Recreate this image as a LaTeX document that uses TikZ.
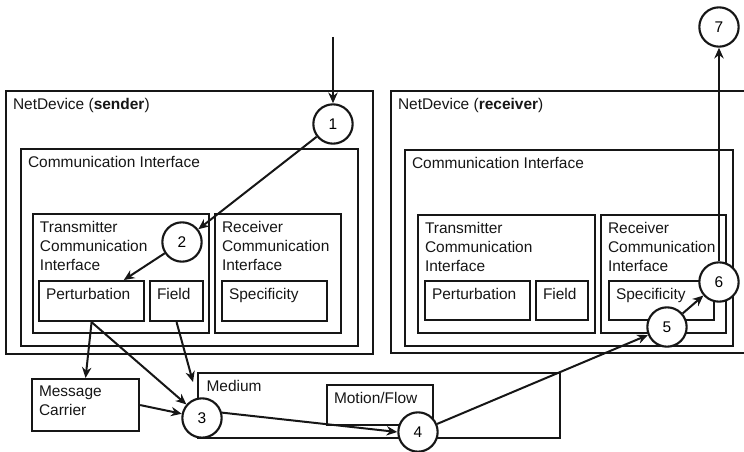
\documentclass[tikz,border=0pt]{standalone}
\usepackage{fontspec}
\setmainfont{Liberation Sans}
\usetikzlibrary{arrows.meta, positioning, calc}
\definecolor{inkblack}{HTML}{161616}
\tikzset{
  boxframe/.style 2 args={rectangle, draw=inkblack, line width=1.6pt, anchor=north west,
                          inner sep=0, minimum width=#1*0.75pt, minimum height=#2*0.75pt},
  boxlabel/.style={anchor=north west, inner sep=0, align=left, text=inkblack,
                   font=\fontsize{11.6}{14.4}\selectfont},
  stepnum/.style={circle, draw=inkblack, fill=white, line width=1.6pt,
                  minimum size=29.5pt, inner sep=0, font=\fontsize{11.6}{13}\selectfont},
  flow/.style={-{Stealth[length=8pt,width=7pt]}, line width=1.5pt, draw=inkblack},
}

\begin{document}
\begin{tikzpicture}[x=0.75pt, y=-0.75pt]
  \useasboundingbox (0,0) rectangle (744,452);

  % --- Sender device ---
  \node[boxframe={367}{263}] (nds)   at (5,90)   {};
  \node[boxframe={337}{197}] (cis)   at (20,148) {};
  \node[boxframe={176}{119}] (tcis)  at (32,213) {};
  \node[boxframe={105}{40}]  (perts) at (38,280) {};
  \node[boxframe={53}{40}]   (flds)  at (149,280) {};
  \node[boxframe={126}{119}] (rcis)  at (214,213) {};
  \node[boxframe={105}{40}]  (specs) at (221,280) {};

  \node[boxlabel, below right=5.8pt and 5.8pt of nds.north west]   (ndslab)   {NetDevice (\textbf{sender})};
  \node[boxlabel, below right=5.8pt and 5.8pt of cis.north west]   (cislab)   {Communication Interface};
  \node[boxlabel, below right=5.8pt and 5.8pt of tcis.north west]  (tcislab)  {Transmitter\\Communication\\Interface};
  \node[boxlabel, below right=5.8pt and 5.8pt of perts.north west] (pertslab) {Perturbation};
  \node[boxlabel, below right=5.8pt and 5.8pt of flds.north west]  (fldslab)  {Field};
  \node[boxlabel, below right=5.8pt and 5.8pt of rcis.north west]  (rcislab)  {Receiver\\Communication\\Interface};
  \node[boxlabel, below right=5.8pt and 5.8pt of specs.north west] (specslab) {Specificity};

  % --- Receiver device ---
  \node[boxframe={360}{262}] (ndr)   at (390,90)  {};
  \node[boxframe={328}{196}] (cir)   at (404,149) {};
  \node[boxframe={177}{118}] (tcir)  at (417,214) {};
  \node[boxframe={105}{39}]  (pertr) at (424,280) {};
  \node[boxframe={52}{39}]   (fldr)  at (535,280) {};
  \node[boxframe={125}{118}] (rcir)  at (600,214) {};
  \node[boxframe={105}{39}]  (specr) at (608,280) {};

  \node[boxlabel, below right=5.8pt and 5.8pt of ndr.north west]   (ndrlab)   {NetDevice (\textbf{receiver})};
  \node[boxlabel, below right=5.8pt and 5.8pt of cir.north west]   (cirlab)   {Communication Interface};
  \node[boxlabel, below right=5.8pt and 5.8pt of tcir.north west]  (tcirlab)  {Transmitter\\Communication\\Interface};
  \node[boxlabel, below right=5.8pt and 5.8pt of pertr.north west] (pertrlab) {Perturbation};
  \node[boxlabel, below right=5.8pt and 5.8pt of fldr.north west]  (fldrlab)  {Field};
  \node[boxlabel, below right=5.8pt and 5.8pt of rcir.north west]  (rcirlab)  {Receiver\\Communication\\Interface};
  \node[boxlabel, below right=5.8pt and 5.8pt of specr.north west] (specrlab) {Specificity};

  % --- Carrier and medium ---
  \node[boxframe={107}{52}] (mc)  at (31,378)  {};
  \node[boxframe={362}{65}] (med) at (197,372) {};
  \node[boxframe={106}{40}] (mot) at (326,384) {};

  \node[boxlabel, below right=5.8pt and 5.8pt of mc.north west]  (mclab)  {Message\\Carrier};
  \node[boxlabel, below right=5.8pt and 7pt of med.north west]   (medlab) {Medium};
  \node[boxlabel, below right=5.8pt and 5.8pt of mot.north west] (motlab) {Motion/Flow};

  % --- Steps ---
  \node[stepnum] (s1) at (333,124) {1};
  \node[stepnum] (s2) at (182,242) {2};
  \node[stepnum] (s3) at (202,418) {3};
  \node[stepnum] (s4) at (418,432) {4};
  \node[stepnum] (s5) at (667,327) {5};
  \node[stepnum] (s6) at (719,282) {6};
  \node[stepnum] (s7) at (719,27)  {7};

  \coordinate (feed)   at (333,37);
  \coordinate (medhit) at (193,382);

  % --- Flow ---
  \draw[flow] (feed) -- (s1);
  \draw[flow] (s1) -- (s2);
  \draw[flow] (s2) -- (perts);
  \draw[flow] (perts.south) -- (mc.north);
  \draw[flow] (perts.south) -- (s3);
  \draw[flow] (flds.south) -- (medhit);
  \draw[flow] (mc.east) -- (s3);
  \draw[flow] (s3.15) -- (s4.west);
  \draw[flow] (s4) -- (s5);
  \draw[flow] (s5) -- (s6);
  \draw[flow] (s6) -- (s7);
\end{tikzpicture}
\end{document}
